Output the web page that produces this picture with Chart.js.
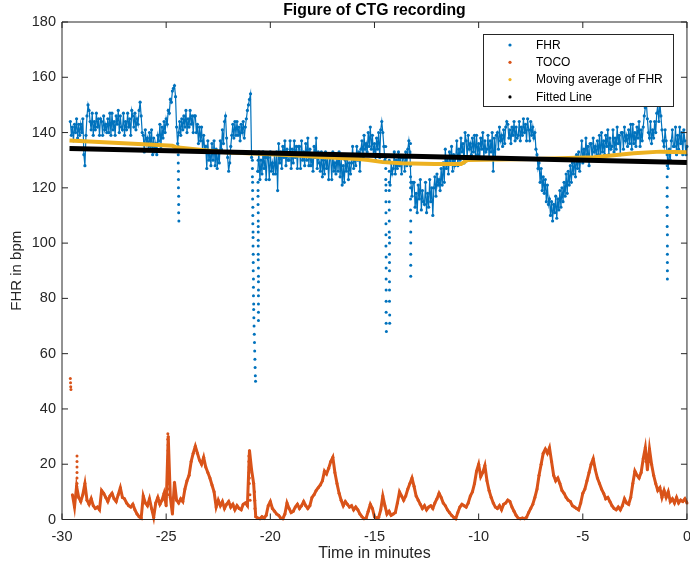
<!DOCTYPE html>
<html>
<head>
<meta charset="utf-8">
<title>Figure of CTG recording</title>
<script src="https://cdn.jsdelivr.net/npm/chart.js@4.4.0/dist/chart.umd.min.js"></script>
<style>
  html, body { margin: 0; padding: 0; background: #fff; overflow: hidden; }
  canvas { display: block; }
</style>
</head>
<body>
<canvas id="ctg" width="700" height="569"></canvas>
<script>
// FHR sampled every 0.05 min from -29.6 min, one row = half a minute
// (null where the trace drops out into a dip, see fhrDip* below)
const fhrStart = -29.6;
const fhrStep = 0.05;
const fhr = [
  144,139,142,137,143,140,145,138,143,139,
  143,140,145,132,128,139,146,150,148,144,
  141,147,139,144,141,147,142,145,139,145,
  144,139,146,141,143,140,145,140,147,139,
  147,141,144,139,146,143,148,140,146,142,
  141,147,139,144,141,147,142,145,139,148,
  146,142,147,141,145,143,148,151,146,140,
  139,133,141,136,138,134,140,135,141,132,
  138,133,136,132,139,137,143,135,142,138,
  144,140,145,143,148,147,152,151,155,156,
  157,153,142,136,140,144,139,145,141,146,
  142,148,140,145,142,148,143,146,140,146,
  146,140,143,136,142,137,142,133,139,134,
  135,127,137,130,133,128,136,130,137,128,
  134,127,133,129,137,134,141,136,144,146,
  138,131,126,129,135,139,143,138,144,139,
  144,139,142,137,143,140,144,138,142,145,
  148,150,152,154,131,null,null,null,null,null,
  126,133,123,130,125,133,127,131,123,131,
  131,123,133,126,129,125,132,125,133,119,
  136,129,133,127,135,131,137,128,134,130,
  130,137,127,134,129,137,131,135,127,135,
  135,127,137,130,133,128,136,130,138,128,
  134,128,132,126,135,131,138,127,133,129,
  126,133,124,130,125,133,127,131,123,131,
  131,123,133,126,129,125,132,126,133,124,
  131,121,128,122,130,126,132,123,129,125,
  129,135,127,132,128,135,130,133,126,134,
  137,131,139,134,136,133,140,135,142,134,
  139,132,136,130,138,134,140,131,141,144,
  140,135,130,null,null,null,null,121,129,125,
  127,133,125,130,127,133,128,131,125,131,
  131,126,133,128,134,137,133,122,117,122,
  122,113,118,111,121,116,123,112,119,115,
  114,122,111,118,113,123,115,120,110,120,
  124,117,125,121,123,119,127,121,129,122,
  134,127,131,125,133,129,135,126,132,128,
  131,137,128,134,130,138,133,136,129,140,
  137,131,139,134,136,132,138,133,139,131,
  139,132,136,131,138,134,140,131,137,133,
  134,139,131,137,133,140,126,138,131,139,
  140,134,142,137,139,135,141,136,142,144,
  143,138,141,136,142,139,144,137,142,138,
  139,144,137,142,139,145,140,143,137,145,
  141,137,144,139,142,138,140,134,132,127,
  129,122,127,119,124,118,123,115,121,114,
  116,110,115,108,114,111,117,109,116,112,
  119,113,120,115,122,117,125,118,126,121,
  128,122,129,125,131,124,132,127,133,126,
  131,137,129,134,130,138,132,135,128,136,
  136,130,138,133,135,131,137,132,139,130,
  140,133,137,132,139,135,141,132,138,134,
  135,141,133,138,134,142,136,139,132,140,
  140,134,142,137,139,135,141,136,143,134,
  143,136,140,135,142,138,144,135,141,137,
  142,146,149,151,145,140,138,144,136,141,
  138,144,140,147,150,144,151,146,141,137,
  135,141,137,132,127,134,130,137,141,135,
  135,142,132,139,134,142,136,140,132,141,
  137,132,135
];

// signal-loss drops in FHR (fast samples falling to the floor)
const fhrDipTimes = [
  -24.42,-24.42,-24.42,-24.41,-24.41,-24.41,-24.40,-24.40,-24.40,-24.39,
  -20.86,-20.86,-20.86,-20.85,-20.85,-20.85,-20.84,-20.84,-20.84,-20.83,
  -20.83,-20.83,-20.82,-20.82,-20.82,-20.81,-20.81,-20.81,-20.80,-20.80,
  -20.79,-20.78,-20.77,-20.76,-20.75,-20.74,-20.73,-20.72,-20.71,
  -20.59,-20.59,-20.59,-20.59,-20.59,-20.59,-20.58,-20.58,-20.58,-20.58,-20.58,
  -20.58,-20.58,-20.58,-20.57,-20.57,-20.57,-20.57,-20.57,-20.57,-20.57,-20.57,
  -14.46,-14.46,-14.46,-14.46,-14.45,-14.45,-14.45,-14.45,-14.45,-14.45,
  -14.45,-14.44,-14.44,-14.44,-14.44,-14.44,-14.44,-14.44,-14.43,
  -14.29,-14.29,-14.29,-14.29,-14.29,-14.29,-14.29,-14.29,-14.28,-14.28,
  -14.28,-14.28,-14.28,-14.28,-14.28,-14.28,-14.27,-14.27,
  -13.27,-13.27,-13.27,-13.27,-13.27,-13.27,-13.27,-13.26,-13.26,-13.26,-13.26,-13.26,-13.26,
  -0.95,-0.95,-0.95,-0.95,-0.95,-0.95,-0.95,-0.94,-0.94,-0.94,-0.94,-0.94,-0.94
];
const fhrDipValues = [
  135,132,129,126,123,120,117,114,111,108,
  130,127,124,122,119,116,113,110,107,104,
  102,99,96,93,90,87,84,81,78,76,
  73,70,67,64,61,58,55,52,50,
  130,126,122,119,117,114,111,108,106,104,101,
  99,96,94,91,88,86,83,81,78,75,72,
  135,131,127,123,121,119,115,111,107,103,
  99,95,91,87,83,79,75,71,68,
  130,126,122,119,115,112,108,104,102,100,
  96,93,90,86,83,79,74,71,
  136,132,128,124,120,116,112,108,104,100,96,92,88,
  128,124,120,117,113,110,106,103,99,96,93,90,87
];

// TOCO sampled every 0.1 min from -29.6 min, one row = one minute
const tocoStart = -29.6;
const tocoStep = 0.1;
const toco = [
  null,9,4.5,12,8,6.5,9,13,7,5.5,
  7.5,5,4,4.5,3.5,10.5,9.5,8,6.5,8.5,
  9.5,7.5,6.5,9,11.5,8,7.5,6,5,4.5,
  5.5,3.5,2,1,0.5,8.5,6,5,7.5,4,
  0.8,6,8,5.5,7,9.5,5,30,8,2,
  13.5,7,6,7.5,6.5,11,14,16,21,24,
  26.5,24,21.5,20,22.5,19,17,15,12.5,10,
  4.5,7,5,6.5,4,5.5,6.5,4.5,5.5,3.5,
  5,4,3.5,5.5,6,5,25,18,13,1,
  0.5,0.3,1,0.5,1.5,5,6.5,4,3,2,
  1.5,0.5,0.3,2,6,4,2.5,3,4.5,5.5,
  4,5,6.5,5,4,5,8,9,10.5,11.5,
  12.5,14,17.5,16.5,18.5,21,22.5,17,13,9.5,
  7,5,6.5,5.5,4.5,5,3.5,4.5,3.5,2,
  1,0.3,0.5,3,5.5,4,1,0.5,0.8,3.5,
  8.5,5,2,3,1.5,2,2.5,6,10,8.5,
  7,8.5,11,13,15,12,8.5,7,5.5,4,
  5,3.5,4.5,5,4,6,7.5,9.5,8,6,
  5,3.5,2.5,1.5,0.8,0.3,2.5,4.5,5.5,5,
  4.5,6,8.5,10,13,17.5,20,15.5,17,19.5,
  14,10.5,8,6,4.5,4,5,3.5,5.5,6,
  7,6.5,4.5,3,1.5,0.5,0.3,0.5,0.3,0.8,
  2.5,4,5.5,8,11,16,20,24,25.5,24,
  26,21,16,14,15,13,10.5,9.5,8,7,
  6.5,5,4.5,4,3.5,6,9.5,11,14,17,
  20,22,18,15,13,11,9.5,7.5,8,6.5,
  5,4,3.5,4.5,3.5,5,7.5,6,5.5,8,
  13,17.5,16,15,17,22,26,18,25.5,20,
  16,13,10.5,11.5,8,10.5,8,10,6.5,7.5,
  6,8,6,7,6.5,7.5,6
];

// fast TOCO excursions between the 0.1 min samples
const tocoSpikeTimes = [
  -29.60,-29.59,-29.58,-29.57,
  -29.28,-29.28,-29.28,-29.28,-29.28,-29.28,
  -24.92,-24.92,-24.91,-24.91,-24.90,-24.90,-24.89,-24.89,-24.88,-24.88,-24.87,-24.87,
  -21.03,-21.03,-21.02,-21.02,-21.01,-21.01,-20.98,-20.97,
  -20.76,-20.75,-20.74,
  -1.98,-1.97,-1.82,-1.81
];
const tocoSpikeValues = [
  51,49.5,48,47,
  23,21,19,17,15,13,
  31,29,27,25,23,21,19,17,15,13,11,9,
  23,21,19,17,15,13,9,7,
  10,7,4,
  24,21,23,21
];

// moving average of FHR
const avgTimes = [-29.64,-24.7,-24.54,-23.27,-22.15,-20.56,-18.97,-17.37,-15.78,-15.3,
  -14.6,-13.71,-12.11,-10.84,-10.52,-7.33,-4.47,-2.55,-1.28,0];
const avgValues = [137.1,135.2,134.7,133.7,132.9,132.3,131.8,131.1,130.4,130.1,
  129.3,128.9,128.6,128.6,130.1,130.4,131.1,132.5,133.1,132.9];

// least-squares line through FHR
const fitTimes = [-29.64, 0];
const fitValues = [134.2, 129.2];

const xTicks = [-30, -25, -20, -15, -10, -5, 0];
const yTicks = [0, 20, 40, 60, 80, 100, 120, 140, 160, 180];

const seriesNames = ['FHR', 'TOCO', 'Moving average of FHR', 'Fitted Line'];
const seriesColors = ['#0072BD', '#D95319', '#EDB120', '#000000'];

const FONT = "'Liberation Sans', Arial, Helvetica, sans-serif";
const INK = '#262626';

function sampled(values, start, step) {
  return values.map((v, i) => ({ x: +(start + i * step).toFixed(3), y: v }));
}
function paired(times, values) {
  return times.map((t, i) => ({ x: t, y: values[i] }));
}

// dense traces: dots joined by a thin line of the same colour
function trace(label, data, color, width, radius) {
  return {
    label, data,
    showLine: true,
    borderColor: color,
    borderWidth: width,
    pointRadius: radius,
    pointBorderWidth: 0,
    pointBackgroundColor: color,
    spanGaps: false,
    clip: false
  };
}
function dots(label, data, color, radius) {
  return {
    label, data,
    showLine: false,
    pointRadius: radius,
    pointBorderWidth: 0,
    pointBackgroundColor: color,
    clip: false
  };
}

// box around the axes with inward ticks on all four sides
const axesBox = {
  id: 'axesBox',
  afterDatasetsDraw(chart) {
    const { ctx, chartArea: a, scales: { x, y } } = chart;
    const len = 6;
    ctx.save();
    ctx.strokeStyle = INK;
    ctx.lineWidth = 1;
    ctx.beginPath();
    ctx.rect(a.left, a.top, a.right - a.left, a.bottom - a.top);
    xTicks.forEach(v => {
      const px = x.getPixelForValue(v);
      ctx.moveTo(px, a.bottom); ctx.lineTo(px, a.bottom - len);
      ctx.moveTo(px, a.top); ctx.lineTo(px, a.top + len);
    });
    yTicks.forEach(v => {
      const py = y.getPixelForValue(v);
      ctx.moveTo(a.left, py); ctx.lineTo(a.left + len, py);
      ctx.moveTo(a.right, py); ctx.lineTo(a.right - len, py);
    });
    ctx.stroke();
    ctx.restore();
  },
  afterDraw(chart) {
    const { ctx, chartArea: a } = chart;
    ctx.save();
    // title
    ctx.fillStyle = '#000';
    ctx.font = 'bold 15.8px ' + FONT;
    ctx.textAlign = 'center';
    ctx.textBaseline = 'middle';
    ctx.fillText('Figure of CTG recording', (a.left + a.right) / 2, 11);
    // legend
    const bx = 483, by = 34, bw = 190, bh = 72;
    ctx.fillStyle = '#fff';
    ctx.fillRect(bx, by, bw, bh);
    ctx.strokeStyle = INK;
    ctx.lineWidth = 1;
    ctx.strokeRect(bx + 0.5, by + 0.5, bw, bh);
    ctx.font = '12px ' + FONT;
    ctx.textAlign = 'left';
    seriesNames.forEach((name, i) => {
      const ry = by + 11 + i * 17.3;
      ctx.fillStyle = seriesColors[i];
      ctx.beginPath();
      ctx.arc(bx + 27, ry, 1.6, 0, Math.PI * 2);
      ctx.fill();
      ctx.fillStyle = '#000';
      ctx.fillText(name, bx + 53, ry + 0.5);
    });
    ctx.restore();
  }
};

new Chart(document.getElementById('ctg'), {
  type: 'scatter',
  data: {
    datasets: [
      {
        label: seriesNames[3],
        data: paired(fitTimes, fitValues),
        showLine: true,
        borderColor: seriesColors[3],
        borderWidth: 5,
        pointRadius: 0,
        clip: false
      },
      {
        label: seriesNames[2],
        data: paired(avgTimes, avgValues),
        showLine: true,
        borderColor: seriesColors[2],
        borderWidth: 4,
        pointRadius: 0,
        clip: false
      },
      dots(seriesNames[0] + ' dips', paired(fhrDipTimes, fhrDipValues), seriesColors[0], 1.5),
      trace(seriesNames[0], sampled(fhr, fhrStart, fhrStep), seriesColors[0], 1.2, 1.6),
      dots(seriesNames[1] + ' spikes', paired(tocoSpikeTimes, tocoSpikeValues), seriesColors[1], 1.5),
      trace(seriesNames[1], sampled(toco, tocoStart, tocoStep), seriesColors[1], 3, 1.5)
    ]
  },
  options: {
    responsive: false,
    animation: false,
    events: [],
    layout: { padding: { top: 22, right: 8, bottom: 0, left: 0 } },
    plugins: {
      legend: { display: false },
      title: { display: false },
      tooltip: { enabled: false }
    },
    scales: {
      x: {
        type: 'linear',
        min: -30,
        max: 0,
        afterBuildTicks: s => { s.ticks = xTicks.map(v => ({ value: v })); },
        afterFit: s => { s.height = 49.5; },
        grid: { display: false, drawTicks: false },
        border: { display: false },
        ticks: { color: INK, font: { family: FONT, size: 14.5 }, padding: 9, maxRotation: 0, autoSkip: false },
        title: { display: true, text: 'Time in minutes', color: INK, font: { family: FONT, size: 16 }, padding: { top: 0, bottom: 6 } }
      },
      y: {
        type: 'linear',
        min: 0,
        max: 180,
        afterBuildTicks: s => { s.ticks = yTicks.map(v => ({ value: v })); },
        afterFit: s => { s.width = 62; },
        grid: { display: false, drawTicks: false },
        border: { display: false },
        ticks: { color: INK, font: { family: FONT, size: 14.5 }, padding: 6, autoSkip: false },
        title: { display: true, text: 'FHR in bpm', color: INK, font: { family: FONT, size: 15 }, padding: { top: 8, bottom: 0 } }
      }
    }
  },
  plugins: [axesBox]
});
</script>
</body>
</html>
